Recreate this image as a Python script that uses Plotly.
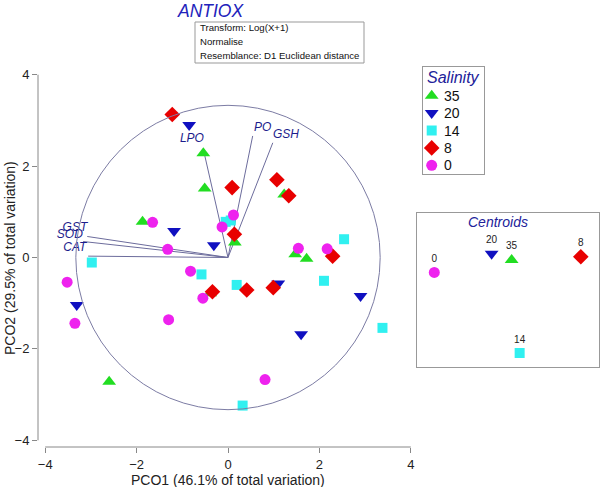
import plotly.graph_objects as go

# ---------------- data ----------------
salinity_groups = ["35", "20", "14", "8", "0"]

x_35 = [-0.54, -0.51, -1.87, 1.23, 0.15, 1.47, 1.72, -0.39, -2.60]
y_35 = [2.28, 1.51, 0.78, 1.38, 0.33, 0.07, -0.03, -0.78, -2.72]

x_20 = [-0.85, -1.18, -0.31, -3.31, 1.10, 2.90, 1.60]
y_20 = [2.90, 0.58, 0.27, -1.04, -0.57, -0.84, -1.68]

x_14 = [-0.05, 0.06, -2.98, 2.54, -0.58, 0.19, 2.10, 3.38, 0.32]
y_14 = [0.78, 0.81, -0.11, 0.40, -0.37, -0.60, -0.51, -1.54, -3.24]

x_8 = [-1.22, 0.09, 1.07, 1.33, 0.14, 2.29, -0.34, 0.41, 0.99]
y_8 = [3.13, 1.53, 1.70, 1.35, 0.51, 0.03, -0.75, -0.71, -0.66]

x_0 = [-1.65, -1.32, -0.13, 0.12, 1.54, 2.17, -3.52, -3.35, -0.82, -0.55, -1.30, 0.81]
y_0 = [0.77, 0.18, 0.67, 0.93, 0.20, 0.19, -0.54, -1.44, -0.30, -0.89, -1.36, -2.67]

# vector overlay (variables)
vector_names = ["LPO", "PO", "GSH", "GST", "SOD", "CAT"]
vector_x = [-0.52, 0.54, 0.98, -3.08, -3.17, -3.06]
vector_y = [2.28, 2.66, 2.51, 0.46, 0.35, 0.03]
vector_label_x = [-0.79, 0.76, 1.27, -3.35, -3.46, -3.35]
vector_label_y = [2.59, 2.84, 2.68, 0.65, 0.49, 0.20]
circle_radius = 3.33

# centroid panel (relative positions inside the panel)
centroid_labels = ["35", "20", "14", "8", "0"]
centroid_x = [0.52, 0.41, 0.564, 0.90, 0.095]
centroid_y = [0.695, 0.736, 0.091, 0.716, 0.614]

tick_vals = [-4, -2, 0, 2, 4]
info_lines = ["Transform: Log(X+1)", "Normalise", "Resemblance: D1 Euclidean distance"]

# ---------------- styles ----------------
series_x = [x_35, x_20, x_14, x_8, x_0]
series_y = [y_35, y_20, y_14, y_8, y_0]
colors = ["#22dd22", "#1010c0", "#30f0f0", "#e80000", "#ee22ee"]
symbols = ["triangle-up", "triangle-down", "square", "diamond", "circle"]
sizes = [12, 12, 10, 12, 11]
FONT = "Liberation Sans, Arial"

W, H = 600, 487
ML, MR, MT, MB = 38, 1, 0, 40
PW = W - ML - MR
PH = H - MT - MB


def px_x(p):
    return (p - ML) / PW


def px_y(p):
    return (H - MB - p) / PH


# main axis ranges (equal scale ~45.7 px/unit)
ux = 45.7
x0_px, y0_px = 228.0, 257.5
main_right_px, main_top_px = 415, 68
xr = [(ML - x0_px) / ux, (main_right_px - x0_px) / ux]
yr = [(y0_px - (H - MB)) / ux, (y0_px - main_top_px) / ux]

# legend box (pixel layout)
LEG_L, LEG_R, LEG_T, LEG_B = 423, 484, 67, 174
leg_first, leg_step = 95.7, 17.4
leg_marker_x, leg_text_x = 431.7, 441.5

fig = go.Figure()

# vectors
for i, name in enumerate(vector_names):
    fig.add_trace(go.Scatter(
        x=[0, vector_x[i]], y=[0, vector_y[i]], mode="lines",
        line=dict(color="#6c6c9c", width=1), showlegend=False, hoverinfo="skip"))
fig.add_trace(go.Scatter(
    x=vector_label_x, y=vector_label_y, mode="text", text=vector_names,
    textfont=dict(family=FONT, size=12, color="#1c1c8c", style="italic"),
    showlegend=False, hoverinfo="skip"))

# samples
for i, g in enumerate(salinity_groups):
    fig.add_trace(go.Scatter(
        x=series_x[i], y=series_y[i], mode="markers", name=g, showlegend=False,
        marker=dict(symbol=symbols[i], color=colors[i], size=sizes[i], line=dict(width=0))))

# legend entries (drawn in their own small axis)
legend_annotations = []
for i, g in enumerate(salinity_groups):
    yy = leg_first + i * leg_step
    fig.add_trace(go.Scatter(
        x=[leg_marker_x], y=[yy], mode="markers", xaxis="x3", yaxis="y3",
        marker=dict(symbol=symbols[i], color=colors[i], size=sizes[i], line=dict(width=0)),
        showlegend=False, hoverinfo="skip"))
    legend_annotations.append(dict(
        text=g, xref="x3", yref="y3", x=leg_text_x, y=yy, xanchor="left", yanchor="middle",
        showarrow=False, font=dict(family=FONT, size=14, color="#111111")))

# centroids
for i, g in enumerate(centroid_labels):
    fig.add_trace(go.Scatter(
        x=[centroid_x[i]], y=[centroid_y[i]], mode="markers+text", text=[g],
        textposition="top center",
        textfont=dict(family=FONT, size=10, color="#222222"),
        marker=dict(symbol=symbols[i], color=colors[i], size=sizes[i], line=dict(width=0)),
        xaxis="x2", yaxis="y2", showlegend=False))

axis_font = dict(family=FONT, size=13, color="#222222")
box_axis = dict(showgrid=False, zeroline=False, showticklabels=False, ticks="",
                showline=True, mirror=True, linecolor="#999999", linewidth=1, fixedrange=True)

info_annotations = []
for i, line in enumerate(info_lines):
    info_annotations.append(dict(
        text=line, xref="paper", yref="paper", x=px_x(197.5), y=px_y(27.5 + 14 * i),
        xanchor="left", yanchor="middle", showarrow=False,
        font=dict(family=FONT, size=9.6, color="#111111")))

fig.update_layout(
    width=W, height=H,
    margin=dict(l=ML, r=MR, t=MT, b=MB),
    paper_bgcolor="white", plot_bgcolor="white",
    showlegend=False,
    xaxis=dict(domain=[0, px_x(main_right_px)], range=xr, tickvals=tick_vals,
               ticks="outside", ticklen=5, tickcolor="#888888",
               showgrid=False, zeroline=False, showline=False,
               tickfont=axis_font, anchor="y"),
    yaxis=dict(domain=[0, px_y(main_top_px)], range=yr, tickvals=tick_vals,
               ticks="outside", ticklen=5, tickcolor="#888888",
               showgrid=False, zeroline=False, showline=False,
               tickfont=axis_font, anchor="x"),
    xaxis2=dict(domain=[px_x(417), px_x(599)], range=[0, 1], anchor="y2", **box_axis),
    yaxis2=dict(domain=[px_y(367), px_y(213)], range=[0, 1], anchor="x2", **box_axis),
    xaxis3=dict(domain=[px_x(LEG_L), px_x(LEG_R)], range=[LEG_L, LEG_R], anchor="y3", **box_axis),
    yaxis3=dict(domain=[px_y(LEG_B), px_y(LEG_T)], range=[LEG_B, LEG_T], anchor="x3", **box_axis),
    shapes=[
        dict(type="circle", xref="x", yref="y", x0=-circle_radius, x1=circle_radius,
             y0=-circle_radius, y1=circle_radius, line=dict(color="#7c7ca4", width=1)),
        dict(type="line", xref="x", yref="y domain", x0=tick_vals[0], x1=tick_vals[-1],
             y0=0, y1=0, line=dict(color="#888888", width=1)),
        dict(type="line", xref="x domain", yref="y", x0=0, x1=0,
             y0=tick_vals[0], y1=tick_vals[-1], line=dict(color="#888888", width=1)),
        dict(type="rect", xref="paper", yref="paper", x0=px_x(195), x1=px_x(364),
             y0=px_y(63), y1=px_y(22), line=dict(color="#999999", width=1),
             fillcolor="white", layer="below"),
    ],
    annotations=[
        dict(text="ANTIOX", xref="paper", yref="paper", x=px_x(210), y=px_y(-1),
             xanchor="center", yanchor="top", showarrow=False,
             font=dict(family=FONT, size=17.5, color="#2222bb", style="italic")),
        dict(text="Salinity", xref="paper", yref="paper", x=px_x(453.5), y=px_y(77.5),
             xanchor="center", yanchor="middle", showarrow=False,
             font=dict(family=FONT, size=16, color="#22229a", style="italic")),
        dict(text="Centroids", xref="paper", yref="paper", x=px_x(498), y=px_y(222),
             xanchor="center", yanchor="middle", showarrow=False,
             font=dict(family=FONT, size=14, color="#22229a", style="italic")),
        dict(text="PCO1 (46.1% of total variation)", xref="paper", yref="paper",
             x=px_x(228), y=px_y(480), xanchor="center", yanchor="middle", showarrow=False,
             font=dict(family=FONT, size=14, color="#222222")),
        dict(text="PCO2 (29.5% of total variation)", xref="paper", yref="paper",
             x=px_x(10), y=px_y(258), xanchor="center", yanchor="middle", showarrow=False,
             textangle=-90,
             font=dict(family=FONT, size=14, color="#222222")),
    ] + info_annotations + legend_annotations,
)

fig.write_html("out.html")
